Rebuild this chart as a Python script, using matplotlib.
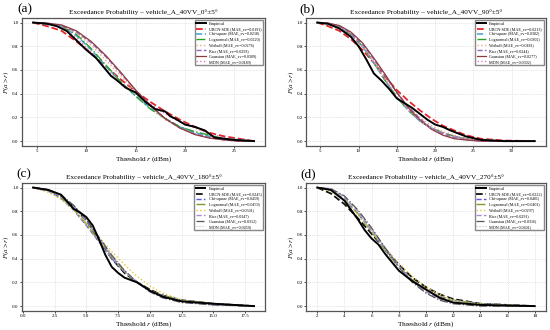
import matplotlib
matplotlib.use("Agg")
import matplotlib.pyplot as plt

plt.rcParams['font.family'] = ['Liberation Serif', 'DejaVu Serif']
plt.rcParams['mathtext.fontset'] = 'stix'

models = ['URCN-SDE', 'Chi-square', 'Lognormal', 'Weibull', 'Rice', 'Gaussian', 'MDN']
panel_tags = ['(a)', '(b)', '(c)', '(d)']
angles = ['0°±5°', '90°±5°', '180°±5°', '270°±5°']

# ---- panel (a) 0 deg ----
a_emp_x = [4.6, 6, 7, 8, 9, 10, 11, 12, 12.5, 13, 14, 15, 16, 17, 18, 18.5, 19, 20, 21, 22, 23, 24, 25, 27]
a_emp_y = [1.0, 0.99, 0.97, 0.93, 0.85, 0.77, 0.70, 0.60, 0.55, 0.52, 0.45, 0.41, 0.33, 0.27, 0.25, 0.21, 0.19, 0.14, 0.12, 0.09, 0.03, 0.02, 0.01, 0.0]
a_x = [4.6, 6, 7.5, 9, 10.5, 12, 13.5, 15, 16.5, 18, 19.5, 21, 22.5, 24, 25.5, 27]
a_mod = {
    'URCN-SDE':   [1.0, 0.97, 0.93, 0.84, 0.74, 0.63, 0.52, 0.42, 0.33, 0.25, 0.18, 0.12, 0.07, 0.04, 0.02, 0.0],
    'Chi-square': [1.0, 0.99, 0.97, 0.89, 0.77, 0.63, 0.50, 0.38, 0.28, 0.19, 0.12, 0.07, 0.04, 0.02, 0.01, 0.0],
    'Lognormal':  [1.0, 0.99, 0.97, 0.90, 0.78, 0.64, 0.50, 0.38, 0.27, 0.19, 0.12, 0.08, 0.05, 0.02, 0.01, 0.0],
    'Weibull':    [1.0, 0.99, 0.97, 0.91, 0.81, 0.68, 0.55, 0.41, 0.29, 0.18, 0.11, 0.06, 0.03, 0.01, 0.0, 0.0],
    'Rice':       [1.0, 0.995, 0.975, 0.92, 0.83, 0.71, 0.57, 0.43, 0.30, 0.19, 0.11, 0.06, 0.03, 0.01, 0.0, 0.0],
    'Gaussian':   [1.0, 0.995, 0.98, 0.93, 0.84, 0.72, 0.58, 0.43, 0.30, 0.19, 0.11, 0.055, 0.025, 0.01, 0.0, 0.0],
    'MDN':        [1.0, 0.99, 0.96, 0.87, 0.75, 0.61, 0.49, 0.40, 0.31, 0.23, 0.16, 0.11, 0.06, 0.03, 0.01, 0.0],
}
a_mae = [0.0191, 0.0218, 0.0220, 0.0276, 0.0293, 0.0309, 0.0189]

# ---- panel (b) 90 deg ----
b_emp_x = [4.6, 6, 7.5, 9, 10, 11, 12, 13, 14, 15, 16, 17, 18, 19, 20, 21, 22, 24, 26, 29, 33]
b_emp_y = [1.0, 0.99, 0.95, 0.88, 0.80, 0.69, 0.57, 0.51, 0.44, 0.36, 0.32, 0.28, 0.23, 0.18, 0.14, 0.12, 0.09, 0.04, 0.01, 0.0, 0.0]
b_x = [4.6, 6, 7.5, 9, 10.5, 12, 13.5, 15, 16.5, 18, 19.5, 21, 22.5, 24, 26, 29, 33]
b_mod = {
    'URCN-SDE':   [1.0, 0.97, 0.93, 0.86, 0.77, 0.66, 0.54, 0.43, 0.34, 0.26, 0.19, 0.13, 0.09, 0.05, 0.02, 0.005, 0.0],
    'Chi-square': [1.0, 0.99, 0.96, 0.90, 0.80, 0.66, 0.51, 0.37, 0.26, 0.17, 0.11, 0.07, 0.04, 0.02, 0.01, 0.0, 0.0],
    'Lognormal':  [1.0, 0.99, 0.96, 0.90, 0.80, 0.66, 0.51, 0.37, 0.26, 0.17, 0.11, 0.07, 0.04, 0.02, 0.01, 0.0, 0.0],
    'Weibull':    [1.0, 0.99, 0.96, 0.90, 0.80, 0.67, 0.53, 0.40, 0.29, 0.20, 0.13, 0.08, 0.05, 0.02, 0.01, 0.0, 0.0],
    'Rice':       [1.0, 0.995, 0.97, 0.91, 0.82, 0.69, 0.55, 0.41, 0.29, 0.19, 0.11, 0.06, 0.03, 0.01, 0.0, 0.0, 0.0],
    'Gaussian':   [1.0, 0.995, 0.975, 0.92, 0.83, 0.70, 0.56, 0.41, 0.28, 0.18, 0.10, 0.05, 0.02, 0.01, 0.0, 0.0, 0.0],
    'MDN':        [1.0, 0.99, 0.96, 0.90, 0.80, 0.66, 0.51, 0.37, 0.26, 0.17, 0.11, 0.07, 0.04, 0.02, 0.01, 0.0, 0.0],
}
b_mae = [0.0213, 0.0302, 0.0302, 0.0181, 0.0244, 0.0277, 0.0302]

# ---- panel (c) 180 deg ----
c_emp_x = [0.8, 2, 3, 3.5, 4, 4.5, 5, 5.5, 6, 6.5, 7, 7.5, 8, 9, 10, 11, 12.5, 15, 18.2]
c_emp_y = [1.0, 0.98, 0.94, 0.88, 0.82, 0.79, 0.75, 0.68, 0.56, 0.43, 0.33, 0.28, 0.24, 0.20, 0.13, 0.08, 0.04, 0.02, 0.0]
c_x = [0.8, 2, 3, 4, 5, 6, 7, 8, 9, 10, 11, 12.5, 15, 18.2]
c_mod = {
    'URCN-SDE':   [1.0, 0.98, 0.93, 0.84, 0.72, 0.56, 0.40, 0.28, 0.20, 0.14, 0.09, 0.05, 0.02, 0.0],
    'Chi-square': [1.0, 0.97, 0.91, 0.81, 0.68, 0.54, 0.40, 0.29, 0.20, 0.13, 0.09, 0.05, 0.02, 0.0],
    'Lognormal':  [1.0, 0.98, 0.92, 0.82, 0.69, 0.55, 0.41, 0.29, 0.20, 0.13, 0.09, 0.05, 0.02, 0.0],
    'Weibull':    [1.0, 0.96, 0.90, 0.81, 0.70, 0.58, 0.46, 0.35, 0.25, 0.17, 0.11, 0.05, 0.015, 0.0],
    'Rice':       [1.0, 0.98, 0.93, 0.84, 0.72, 0.57, 0.42, 0.30, 0.20, 0.13, 0.08, 0.04, 0.01, 0.0],
    'Gaussian':   [1.0, 0.98, 0.94, 0.85, 0.73, 0.58, 0.43, 0.30, 0.20, 0.12, 0.07, 0.03, 0.01, 0.0],
    'MDN':        [1.0, 0.97, 0.91, 0.81, 0.68, 0.54, 0.40, 0.29, 0.20, 0.13, 0.09, 0.05, 0.02, 0.0],
}
c_mae = [0.0245, 0.0459, 0.0459, 0.0501, 0.0347, 0.0312, 0.0459]

# ---- panel (d) 270 deg ----
d_emp_x = [2, 3, 4, 5, 5.5, 6, 6.5, 7, 8, 9, 10, 11, 12, 14, 18]
d_emp_y = [1.0, 0.98, 0.89, 0.73, 0.64, 0.57, 0.52, 0.44, 0.30, 0.21, 0.14, 0.07, 0.03, 0.01, 0.0]
d_x = [2, 3, 4, 5, 6, 7, 8, 9, 10, 11, 12, 14, 16, 18]
d_mod = {
    'URCN-SDE':   [1.0, 0.95, 0.86, 0.74, 0.61, 0.48, 0.35, 0.24, 0.16, 0.10, 0.06, 0.02, 0.01, 0.0],
    'Chi-square': [1.0, 0.98, 0.90, 0.78, 0.63, 0.47, 0.33, 0.22, 0.14, 0.08, 0.05, 0.02, 0.01, 0.0],
    'Lognormal':  [1.0, 0.98, 0.90, 0.78, 0.63, 0.47, 0.33, 0.22, 0.14, 0.08, 0.05, 0.02, 0.01, 0.0],
    'Weibull':    [1.0, 0.97, 0.89, 0.77, 0.63, 0.49, 0.36, 0.25, 0.16, 0.10, 0.05, 0.01, 0.0, 0.0],
    'Rice':       [1.0, 0.99, 0.92, 0.80, 0.65, 0.49, 0.34, 0.21, 0.12, 0.06, 0.03, 0.01, 0.0, 0.0],
    'Gaussian':   [1.0, 0.99, 0.93, 0.81, 0.66, 0.49, 0.33, 0.20, 0.11, 0.05, 0.02, 0.0, 0.0, 0.0],
    'MDN':        [1.0, 0.98, 0.90, 0.78, 0.63, 0.47, 0.33, 0.22, 0.14, 0.08, 0.05, 0.02, 0.01, 0.0],
}
d_mae = [0.0222, 0.0401, 0.0401, 0.0297, 0.0291, 0.0316, 0.0401]

x_ticks = [[5, 10, 15, 20, 25], [5, 10, 15, 20, 25, 30],
           [0, 2.5, 5, 7.5, 10, 12.5, 15, 17.5], [2, 4, 6, 8, 10, 12, 14, 16, 18]]

style_ab = {
    'URCN-SDE':   ('#e0262b', '--', 1.3),
    'Chi-square': ('#4fa9cf', '--', 1.2),
    'Lognormal':  ('#2ca02c', '-.', 1.0),
    'Weibull':    ('#f4a582', ':', 1.0),
    'Rice':       ('#9467bd', '--', 1.0),
    'Gaussian':   ('#8c3b3b', '-', 0.9),
    'MDN':        ('#e377c2', ':', 1.0),
}
style_cd = {
    'URCN-SDE':   ('#111111', '--', 1.3),
    'Chi-square': ('#5a5ad6', '--', 1.0),
    'Lognormal':  ('#7f9a2a', '-.', 1.0),
    'Weibull':    ('#e6c832', ':', 1.0),
    'Rice':       ('#a58fd6', '--', 1.0),
    'Gaussian':   ('#555555', '-.', 0.9),
    'MDN':        ('#bbbbbb', ':', 0.8),
}

panels = [
    (a_emp_x, a_emp_y, a_x, a_mod, a_mae, style_ab),
    (b_emp_x, b_emp_y, b_x, b_mod, b_mae, style_ab),
    (c_emp_x, c_emp_y, c_x, c_mod, c_mae, style_cd),
    (d_emp_x, d_emp_y, d_x, d_mod, d_mae, style_cd),
]

fig = plt.figure(figsize=(5.5, 3.3), dpi=100)
boxes = [[0.040, 0.558, 0.442, 0.388], [0.557, 0.558, 0.435, 0.388],
         [0.040, 0.058, 0.442, 0.388], [0.557, 0.058, 0.435, 0.388]]
tag_pos = [(0.032, 0.99), (0.545, 0.99), (0.030, 0.49), (0.547, 0.49)]

for i, (ex, ey, mx, mod, mae, sty) in enumerate(panels):
    ax = fig.add_axes(boxes[i])
    ax.plot(ex, ey, color='black', lw=1.4, label='Empirical', zorder=5)
    for j, m in enumerate(models):
        c, ls, lw = sty[m]
        ax.plot(mx, mod[m], color=c, ls=ls, lw=lw, label=f'{m} (MAE_ev={mae[j]:.4f})')
    ax.set_xticks(x_ticks[i])
    ax.set_yticks([0.0, 0.2, 0.4, 0.6, 0.8, 1.0])
    ax.set_ylim(-0.04, 1.04)
    xr = mx[-1] - mx[0]
    ax.set_xlim(mx[0] - 0.05 * xr, mx[-1] + 0.05 * xr)
    ax.grid(True, ls=':', lw=0.5, color='#cccccc')
    ax.tick_params(labelsize=3.6, length=1.5, width=0.5, pad=1)
    for s in ax.spines.values():
        s.set_color('#555555')
        s.set_linewidth(0.9)
    ax.set_title(f'Exceedance Probability – vehicle_A_40VV_{angles[i]}', fontsize=5.2, pad=3)
    ax.set_xlabel('Threshold $r$ (dBm)', fontsize=5.3, labelpad=1)
    ax.set_ylabel('$P(a > r)$', fontsize=5, labelpad=0.5)
    ax.legend(loc='upper right', fontsize=3.0, frameon=True, edgecolor='#888888',
              fancybox=False, framealpha=1, handlelength=2.2, labelspacing=0.35,
              borderpad=0.4)
    fig.text(tag_pos[i][0], tag_pos[i][1], panel_tags[i], fontsize=9.5,
             ha='left', va='top')

fig.savefig('out.png', dpi=100)
